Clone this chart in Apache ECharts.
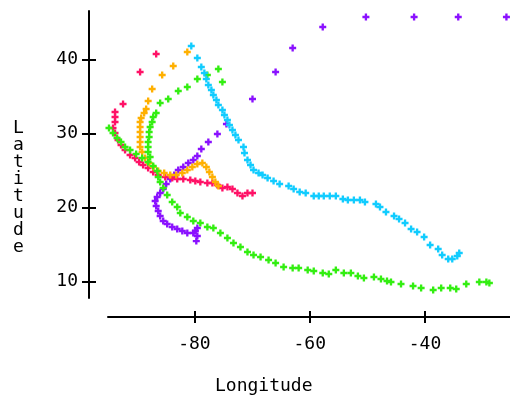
<!DOCTYPE html>
<html><head><meta charset="utf-8">
<script src="https://cdn.jsdelivr.net/npm/echarts@6/dist/echarts.min.js"></script>
<style>html,body{margin:0;padding:0;background:#fff}#c{width:510px;height:399px}</style>
</head><body><div id="c"></div>
<script>
// Tick values
var xTicks = [-80, -60, -40];
var yTicks = [10, 20, 30, 40];

// Purple track
var purpleLon = [-79.68,-79.5,-79.85,-79.5,-80.2,-81.24,-82.11,-82.99,-83.86,-84.73,-85.42,-85.95,-86.29,-86.64,-86.82,-86.47,-85.95,-85.42,-84.9,-84.2,-83.51,-82.81,-81.94,-81.07,-80.2,-79.5,-78.81,-77.59,-76.02,-74.45,-69.93,-65.92,-62.96,-57.74,-50.25,-41.89,-34.23,-25.87];
var purpleLat = [15.5,16.18,16.86,17.26,16.59,16.59,16.86,17.13,17.4,17.8,18.21,18.89,19.56,20.24,20.91,21.45,22.0,22.54,23.21,23.89,24.43,25.1,25.51,26.05,26.46,27.0,27.94,28.89,29.97,31.32,34.7,38.35,41.6,44.44,45.79,45.79,45.79,45.79];

// Red track
var redLon = [-69.93,-70.8,-71.67,-72.54,-73.41,-74.28,-75.15,-76.02,-76.89,-77.76,-78.98,-79.85,-80.72,-81.94,-82.99,-83.86,-85.07,-86.29,-87.16,-88.04,-88.91,-89.6,-90.3,-91.17,-92.04,-92.74,-93.26,-93.78,-94.13,-93.78,-93.78,-93.78,-92.39,-89.43,-86.64];
var redLat = [22.0,22.0,21.59,22.0,22.54,22.81,22.67,23.08,23.35,23.35,23.48,23.62,23.75,23.89,23.89,24.02,24.16,24.43,24.83,25.37,25.78,26.19,26.73,27.13,27.81,28.48,29.16,30.11,30.78,31.59,32.27,32.95,34.03,38.35,40.79];

// Orange track
var orangeLon = [-75.85,-76.37,-76.89,-77.41,-77.94,-78.63,-79.5,-80.37,-81.24,-82.11,-83.16,-84.2,-85.25,-86.29,-87.16,-87.86,-88.56,-89.08,-89.43,-89.43,-89.43,-89.43,-89.43,-89.43,-89.25,-88.73,-88.38,-88.03,-87.34,-85.6,-83.68,-81.24];
var orangeLat = [22.94,23.48,24.16,24.83,25.51,26.05,25.92,25.51,25.1,24.7,24.43,24.43,24.7,24.97,25.51,26.05,26.73,27.54,28.21,28.89,29.57,30.24,30.92,31.59,32.13,32.81,33.35,34.43,36.05,37.95,39.16,41.06];

// Green track
var greenLon = [-28.83,-29.35,-30.57,-32.84,-34.58,-35.62,-37.19,-38.58,-40.67,-42.07,-44.16,-45.9,-46.59,-47.64,-48.86,-50.6,-51.64,-52.86,-54.08,-55.47,-56.69,-57.74,-59.3,-60.35,-61.92,-62.96,-64.53,-65.92,-67.14,-68.53,-69.75,-70.8,-72.02,-73.23,-74.28,-75.5,-76.72,-77.76,-78.98,-80.2,-81.24,-82.46,-82.99,-83.86,-84.73,-85.42,-85.95,-86.29,-86.47,-87.16,-88.04,-89.08,-90.12,-91.17,-92.04,-92.74,-93.43,-94.13,-94.83,-87.69,-88.04,-88.04,-88.04,-87.86,-87.86,-87.69,-87.34,-87.16,-86.64,-85.95,-84.55,-82.81,-81.24,-79.5,-77.76,-75.85,-75.15];
var greenLat = [9.83,9.96,9.96,9.69,9.02,9.15,9.15,8.88,9.15,9.42,9.69,9.96,10.1,10.37,10.64,10.5,10.77,11.18,11.18,11.59,11.04,11.18,11.45,11.59,11.86,11.86,11.99,12.53,12.94,13.34,13.61,14.02,14.69,15.24,15.91,16.59,17.26,17.4,17.94,18.21,18.75,19.29,20.1,20.78,21.72,22.67,23.48,24.16,24.97,25.65,26.19,26.73,27.27,27.81,28.21,28.89,29.43,30.11,30.78,26.86,27.54,28.21,28.89,29.57,30.24,30.92,31.59,32.27,32.81,34.16,34.7,35.78,36.32,37.41,37.95,38.76,37.0];

// Cyan track
var cyanLon = [-80.55,-79.5,-78.81,-78.28,-77.94,-77.59,-77.06,-76.72,-76.19,-75.85,-75.15,-74.8,-74.28,-73.93,-73.41,-72.89,-72.36,-71.49,-71.32,-70.8,-70.27,-69.75,-68.88,-68.18,-67.31,-66.27,-65.22,-63.66,-62.79,-61.74,-60.7,-59.3,-58.43,-57.56,-56.52,-55.47,-54.25,-53.38,-52.34,-51.29,-50.42,-48.51,-47.81,-46.77,-45.37,-44.5,-43.46,-42.41,-41.37,-40.15,-39.11,-37.71,-37.02,-35.97,-35.27,-34.4,-34.06];
var cyanLat = [41.87,40.25,39.03,38.22,37.41,36.6,35.92,35.24,34.57,33.89,33.22,32.54,31.86,31.19,30.51,29.84,29.16,28.21,27.4,26.46,25.78,25.1,24.7,24.43,24.02,23.62,23.21,22.94,22.54,22.13,22.0,21.59,21.59,21.59,21.59,21.59,21.18,21.05,21.05,21.05,20.78,20.51,20.1,19.43,18.89,18.48,17.94,17.13,16.72,16.05,14.97,14.42,13.61,13.07,13.07,13.48,13.88];

var FONT = 'DejaVu Sans Mono';
var PLUS = 'path://M1,0H2V1H3V2H2V3H1V2H0V1H1Z';

function pts(lon, lat) { return lon.map(function (v, i) { return [v, lat[i]]; }); }
function ser(name, lon, lat, color) {
  return { name: name, type: 'scatter', xAxisIndex: 0, yAxisIndex: 0, data: pts(lon, lat),
    symbol: PLUS, symbolSize: 7, itemStyle: { color: color, opacity: 1 }, silent: true, animation: false };
}

var axisBase = {
  type: 'value', offset: 19, splitLine: { show: false }
};
var xA = Object.assign({}, axisBase, { min: -95, max: -25.25, position: 'bottom',
  axisLine: { show: true, lineStyle: { color: '#000', width: 2 } },
  axisTick: { show: true, length: 6, customValues: xTicks, lineStyle: { color: '#000', width: 2 } },
  axisLabel: { customValues: xTicks, margin: 18, color: '#000', fontFamily: FONT, fontSize: 18 } });
var xB = Object.assign({}, axisBase, { min: -95, max: -25.25, position: 'bottom',
  axisLine: { show: false },
  axisTick: { show: true, inside: true, length: 6, customValues: xTicks, lineStyle: { color: '#000', width: 2 } },
  axisLabel: { show: false } });
var yA = Object.assign({}, axisBase, { min: 7.8, max: 46.6, position: 'left',
  axisLine: { show: true, lineStyle: { color: '#000', width: 2 } },
  axisTick: { show: true, length: 7, customValues: yTicks, lineStyle: { color: '#000', width: 2 } },
  axisLabel: { customValues: yTicks, margin: 11, color: '#000', fontFamily: FONT, fontSize: 18 } });
var yB = Object.assign({}, axisBase, { min: 7.8, max: 46.6, position: 'left',
  axisLine: { show: false },
  axisTick: { show: true, inside: true, length: 7, customValues: yTicks, lineStyle: { color: '#000', width: 2 } },
  axisLabel: { show: false } });

var chart = echarts.init(document.getElementById('c'), null, { renderer: 'canvas' });
chart.setOption({
  animation: false,
  backgroundColor: '#fff',
  grid: { left: 108, top: 11, width: 402, height: 287, containLabel: false },
  xAxis: [xA, xB],
  yAxis: [yA, yB],
  graphic: [
    { type: 'text', left: 13, top: 119, style: { text: 'L\na\nt\ni\nt\nu\nd\ne', font: '18px "DejaVu Sans Mono"', lineHeight: 17, fill: '#000', align: 'left' } },
    { type: 'text', left: 215, top: 377, style: { text: 'Longitude', font: '18px "DejaVu Sans Mono"', fill: '#000' } }
  ],
  series: [
    ser('purple', purpleLon, purpleLat, '#8a11ff'),
    ser('red', redLon, redLat, '#ff1166'),
    ser('orange', orangeLon, orangeLat, '#ffb000'),
    ser('green', greenLon, greenLat, '#33ee11'),
    ser('cyan', cyanLon, cyanLat, '#11ccff')
  ]
});
</script>
</body></html>
